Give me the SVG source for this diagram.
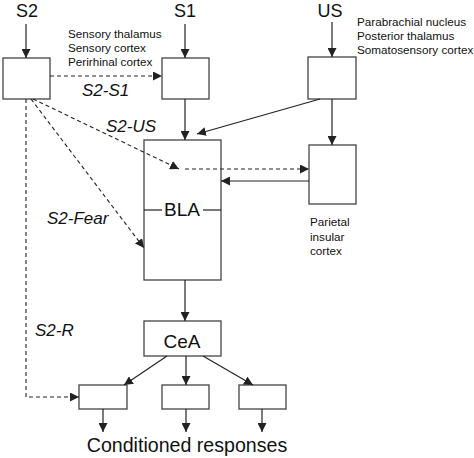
<svg xmlns="http://www.w3.org/2000/svg" width="474" height="458" viewBox="0 0 474 458">
<defs>
<marker id="ah" viewBox="0 0 10 10" refX="10" refY="5" markerWidth="9" markerHeight="9" markerUnits="userSpaceOnUse" orient="auto">
<path d="M0,0 L10,5 L0,10 z" fill="#222"/>
</marker>
<style>
.box{fill:#fff;stroke:#444;stroke-width:1.3}
.ln{fill:none;stroke:#222;stroke-width:1.2}
.ds{fill:none;stroke:#222;stroke-width:1.1;stroke-dasharray:4,3}
.big{font-family:"Liberation Sans",Arial,sans-serif;font-size:19px;fill:#111}
.top{font-family:"Liberation Sans",Arial,sans-serif;font-size:18px;fill:#111}
.sm{font-family:"Liberation Sans",Arial,sans-serif;font-size:11.7px;fill:#111}
.it{font-family:"Liberation Sans",Arial,sans-serif;font-size:17px;font-style:italic;fill:#111}
</style>
</defs>
<rect width="474" height="458" fill="#fff"/>
<g id="S2"><text class="top" x="27" y="17" text-anchor="middle">S2</text><rect class="box" x="3" y="58" width="47" height="41"/></g>
<g id="S1"><text class="top" x="185" y="17" text-anchor="middle">S1</text><rect class="box" x="162" y="58" width="47" height="41"/></g>
<g id="US"><text class="top" x="330" y="17" text-anchor="middle">US</text><rect class="box" x="308" y="57" width="48" height="42"/></g>
<g id="S1-labels"><text class="sm" x="68" y="38">Sensory thalamus</text><text class="sm" x="68" y="52">Sensory cortex</text><text class="sm" x="68" y="66">Perirhinal cortex</text></g>
<g id="US-labels"><text class="sm" x="357" y="26">Parabrachial nucleus</text><text class="sm" x="357" y="40">Posterior thalamus</text><text class="sm" x="357" y="54">Somatosensory cortex</text></g>
<g id="BLA"><rect class="box" x="144" y="140" width="77" height="140"/>
<line class="ln" x1="144" y1="210" x2="162" y2="210"/><line class="ln" x1="203" y1="210" x2="221" y2="210"/>
<text class="big" x="182" y="216" text-anchor="middle">BLA</text></g>
<g id="Parietal"><rect class="box" x="309" y="145" width="47" height="59"/>
<text class="sm" x="310" y="226">Parietal</text><text class="sm" x="310" y="241">insular</text><text class="sm" x="310" y="255">cortex</text></g>
<g id="CeA"><rect class="box" x="144" y="321" width="77" height="35"/><text class="big" x="182" y="348" text-anchor="middle">CeA</text></g>
<g id="R1"><rect class="box" x="79" y="385" width="48" height="24"/></g>
<g id="R2"><rect class="box" x="162" y="385" width="47" height="24"/></g>
<g id="R3"><rect class="box" x="239" y="385" width="47" height="24"/></g>
<g id="connectors">
<line class="ln" x1="26" y1="24" x2="26" y2="58" marker-end="url(#ah)"/>
<line class="ln" x1="185" y1="24" x2="185" y2="58" marker-end="url(#ah)"/>
<line class="ln" x1="332" y1="22" x2="332" y2="57" marker-end="url(#ah)"/>
<line class="ds" x1="50" y1="76" x2="162" y2="76" marker-end="url(#ah)"/>
<line class="ln" x1="185" y1="99" x2="185" y2="140" marker-end="url(#ah)"/>
<line class="ln" x1="320" y1="99" x2="197" y2="134" marker-end="url(#ah)"/>
<line class="ln" x1="332" y1="99" x2="332" y2="145" marker-end="url(#ah)"/>
<line class="ln" x1="309" y1="181" x2="221" y2="181" marker-end="url(#ah)"/>
<line class="ds" x1="185" y1="169" x2="309" y2="169" marker-end="url(#ah)"/>
<line class="ds" x1="33" y1="99" x2="179" y2="169" marker-end="url(#ah)"/>
<line class="ds" x1="31" y1="99" x2="144" y2="248" marker-end="url(#ah)"/>
<polyline class="ds" points="26,99 26,397 79,397" marker-end="url(#ah)"/>
<line class="ln" x1="185" y1="280" x2="185" y2="321" marker-end="url(#ah)"/>
<line class="ln" x1="167" y1="356" x2="124" y2="385" marker-end="url(#ah)"/>
<line class="ln" x1="186" y1="356" x2="186" y2="385" marker-end="url(#ah)"/>
<line class="ln" x1="203" y1="356" x2="253" y2="385" marker-end="url(#ah)"/>
<line class="ln" x1="103" y1="409" x2="103" y2="432" marker-end="url(#ah)"/>
<line class="ln" x1="186" y1="409" x2="186" y2="432" marker-end="url(#ah)"/>
<line class="ln" x1="262" y1="409" x2="262" y2="432" marker-end="url(#ah)"/>
</g>
<g id="labels">
<text class="it" x="82" y="96">S2-S1</text>
<text class="it" x="106" y="132">S2-US</text>
<text class="it" x="47" y="224">S2-Fear</text>
<text class="it" x="35" y="336">S2-R</text>
<text class="big" x="187" y="452" text-anchor="middle" style="font-size:19.6px">Conditioned responses</text>
</g>
</svg>
